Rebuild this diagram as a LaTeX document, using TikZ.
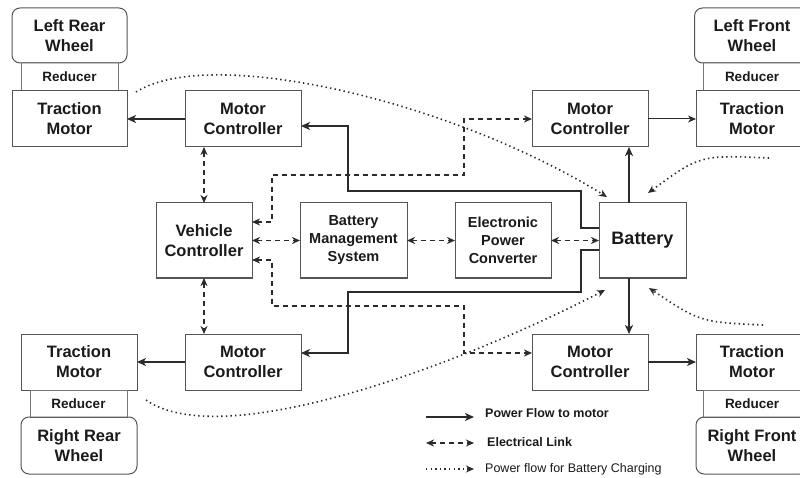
\documentclass[tikz,border=0pt]{standalone}
\usepackage{fontspec}
\setmainfont{Liberation Sans}
\usetikzlibrary{arrows.meta,calc}
\definecolor{ln}{HTML}{2B2B2B}
\definecolor{bd}{HTML}{555555}
\definecolor{tx}{HTML}{1A1A1A}
\begin{document}
\begin{tikzpicture}[x=1pt,y=-1pt,
  box/.style={draw=bd,line width=1pt,inner sep=0pt,outer sep=0pt,align=center,text=tx,
    font=\fontsize{16.5}{20}\selectfont\bfseries},
  wheel/.style={box,rounded corners=8pt},
  red/.style={box,draw=bd!80,font=\fontsize{13.5}{16}\selectfont\bfseries},
  mid/.style={box,font=\fontsize{14.5}{18}\selectfont\bfseries},
  power/.style={draw=ln,line width=1.8pt,-{Stealth[length=9pt,width=8pt,inset=2.5pt]}},
  thinpower/.style={draw=ln,line width=1pt,-{Stealth[length=8pt,width=7pt,inset=2.5pt]}},
  elink/.style={draw=ln,line width=1.4pt,dash pattern=on 5pt off 4pt,{Stealth[length=8pt,width=7pt,inset=2.5pt]}-{Stealth[length=8pt,width=7pt,inset=2.5pt]}},
  charge/.style={draw=ln,line width=1.6pt,dash pattern=on 1.4pt off 3.2pt,-{Stealth[length=8pt,width=7pt,inset=2.5pt]}},
  lgd/.style={anchor=west,inner sep=0pt,text=tx,font=\fontsize{12.5}{15}\selectfont\bfseries}]
\useasboundingbox (0,0) rectangle (800,478);

% left rear
\node[wheel,minimum width=115pt,minimum height=55pt] (lrw) at (69.5,35.5) {Left Rear\\Wheel};
\node[red,minimum width=97pt,minimum height=28pt] (lrr) at (69.5,77) {Reducer};
\node[box,minimum width=115pt,minimum height=56pt] (lrt) at (69.5,119) {Traction\\Motor};
% left front
\node[wheel,minimum width=115pt,minimum height=55pt] (lfw) at (752,35.5) {Left Front\\Wheel};
\node[red,minimum width=97pt,minimum height=28pt] (lfr) at (752,77) {Reducer};
\node[box,minimum width=112pt,minimum height=56pt] (lft) at (752,119) {Traction\\Motor};
% right rear
\node[box,minimum width=116pt,minimum height=56pt] (rrt) at (79,362) {Traction\\Motor};
\node[red,minimum width=97pt,minimum height=27pt] (rrr) at (78.5,403.5) {Reducer};
\node[wheel,minimum width=116pt,minimum height=57pt] (rrw) at (79,445.5) {Right Rear\\Wheel};
% right front
\node[box,minimum width=112pt,minimum height=56pt] (rft) at (752,362) {Traction\\Motor};
\node[red,minimum width=97pt,minimum height=27pt] (rfr) at (752,403.5) {Reducer};
\node[wheel,minimum width=112pt,minimum height=57pt] (rfw) at (752,445.5) {Right Front\\Wheel};

% controllers
\node[box,minimum width=116pt,minimum height=56pt] (mclr) at (243,119) {Motor\\Controller};
\node[box,minimum width=116pt,minimum height=56pt] (mclf) at (590,119) {Motor\\Controller};
\node[box,minimum width=116pt,minimum height=56pt] (mcrr) at (243,362) {Motor\\Controller};
\node[box,minimum width=116pt,minimum height=56pt] (mcrf) at (590,362) {Motor\\Controller};

% middle row
\node[box,minimum width=96pt,minimum height=75pt] (vc) at (204,240.5) {Vehicle\\Controller};
\node[mid,minimum width=107pt,minimum height=75pt] (bms) at (353.5,240.5) {Battery\\Management\\System};
\node[mid,minimum width=96pt,minimum height=75pt] (epc) at (503,240.5) {Electronic\\Power\\Converter};
\node[box,minimum width=87pt,minimum height=75pt,font=\fontsize{18}{20}\selectfont\bfseries] (bat) at (642.5,240.5) {Battery};

% power flow
\draw[power] (mclr.west) -- (lrt.east);
\draw[thinpower] (mclf.east) -- (lft.west);
\draw[power] (mcrr.west) -- (rrt.east);
\draw[power] (mcrf.east) -- (rft.west);
\draw[power] ([xshift=-13.5pt]bat.north) -- ([xshift=-13.5pt]bat.north |- mclf.south);
\draw[power] ([xshift=-13.5pt]bat.south) -- ([xshift=-13.5pt]bat.south |- mcrf.north);
\draw[power] ([yshift=12.5pt]bat.west) -- ++(-18,0) |- (348,191) |- ([yshift=-7pt]mclr.east);
\draw[power] ([yshift=-9.5pt]bat.west) -- ++(-18,0) |- (348,292) |- ([yshift=9pt]mcrr.east);

% electrical links
\draw[elink] (mclr.south -| vc.north) -- (vc.north);
\draw[elink] (vc.south) -- (vc.south |- mcrr.north);
\draw[elink] (vc.east) -- (bms.west);
\draw[elink] (bms.east) -- (epc.west);
\draw[elink] (epc.east) -- (bat.west);
\draw[elink] ([yshift=18.5pt]vc.east) -| (272,175) -| (464,119) -- (mclf.west);
\draw[elink] ([yshift=-19.5pt]vc.east) -| (272,306) -| (464,353) -- ([yshift=9pt]mcrf.west);

% charging flow
\coordinate (c1) at ([xshift=9pt,yshift=-1pt]lrt.north east);
\draw[charge] (c1) .. controls (210,45) and (450,100) .. ([xshift=8pt,yshift=6pt]bat.north west);
\coordinate (c3) at ([xshift=9pt,yshift=-10pt]rrt.south east);
\draw[charge] (c3) .. controls (220,452) and (450,370) .. ([xshift=6pt,yshift=-12pt]bat.south west);
\coordinate (c2) at (769,158);
\draw[charge] (c2) .. controls (700,155) .. ([xshift=5.5pt,yshift=10pt]bat.north);
\coordinate (c4) at (763,325);
\draw[charge] (c4) .. controls (700,322) .. ([xshift=6.5pt,yshift=-10pt]bat.south);

% legend
\coordinate (l1a) at (426,417); \coordinate (l1b) at (474,417);
\coordinate (l2a) at (426,443); \coordinate (l2b) at (474,443);
\coordinate (l3a) at (426,469); \coordinate (l3b) at (474,469);
\draw[power,line width=1.6pt] (l1a) -- (l1b);
\draw[elink] (l2a) -- (l2b);
\draw[charge,line width=1.3pt] (l3a) -- (l3b);
\node[lgd] (t1) at (485,413) {Power Flow to motor};
\node[lgd] (t2) at (487,442) {Electrical Link};
\node[lgd,font=\fontsize{12.5}{15}\selectfont] (t3) at (485,469) {Power flow for Battery Charging};
\end{tikzpicture}
\end{document}
